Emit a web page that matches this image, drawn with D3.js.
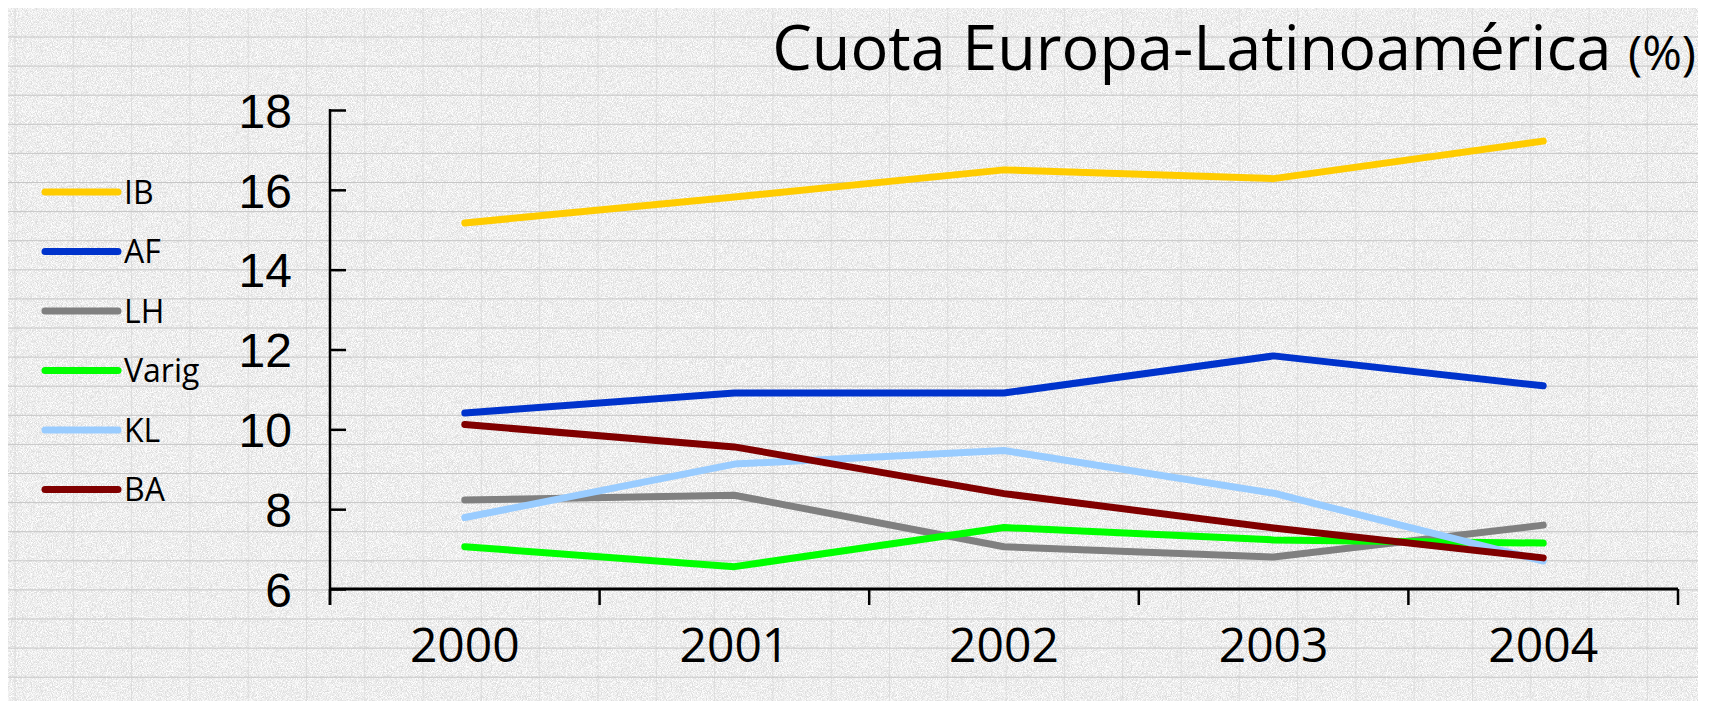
<!DOCTYPE html>
<html>
<head>
<meta charset="utf-8">
<script src="https://cdn.jsdelivr.net/npm/d3@7"></script>
<style>
  body { margin: 0; background: #fff; }
  svg { display: block; font-family: "Open Sans", "DejaVu Sans", sans-serif; }
</style>
</head>
<body>
<svg id="chart" width="1717" height="701"></svg>
<script>
// data
var years = ['2000', '2001', '2002', '2003', '2004'];
var seriesNames = ['IB', 'AF', 'LH', 'Varig', 'KL', 'BA'];
var ib    = [15.17, 15.82, 16.50, 16.28, 17.22];
var af    = [10.41, 10.91, 10.91, 11.84, 11.09];
var lh    = [8.23, 8.35, 7.06, 6.80, 7.60];
var varig = [7.06, 6.56, 7.54, 7.23, 7.15];
var kl    = [7.79, 9.13, 9.47, 8.40, 6.70];
var ba    = [10.12, 9.56, 8.39, 7.53, 6.78];
var yTicks = [6, 8, 10, 12, 14, 16, 18];

var colors = ['#ffcc00', '#0033cc', '#808080', '#00ff00', '#99ccff', '#800000'];
var allSeries = [ib, af, lh, varig, kl, ba];

var svg = d3.select('#chart');
var W = 1717, H = 701;

// ---- textured background ----
var defs = svg.append('defs');
var f = defs.append('filter').attr('id', 'grain')
	.attr('x', 0).attr('y', 0).attr('width', '100%').attr('height', '100%');
f.append('feTurbulence')
	.attr('type', 'fractalNoise')
	.attr('baseFrequency', 1.2)
	.attr('numOctaves', 1)
	.attr('seed', 3);
f.append('feColorMatrix')
	.attr('type', 'matrix')
	.attr('values', '0 0 0 0 1  0 0 0 0 1  0 0 0 0 1  2.8 0 0 0 -0.9');

var bg = svg.append('g');
bg.append('rect')
	.attr('x', 8).attr('y', 8)
	.attr('width', 1690).attr('height', H - 8)
	.attr('fill', '#dcdcdc');
bg.append('rect')
	.attr('x', 8).attr('y', 8)
	.attr('width', 1690).attr('height', H - 8)
	.attr('filter', 'url(#grain)');

bg.selectAll('line.v')
	.data(d3.range(15, 1698, 58.3))
	.enter().append('line')
		.attr('x1', d => d).attr('x2', d => d)
		.attr('y1', 8).attr('y2', H)
		.attr('stroke', '#d2d2d2')
		.attr('stroke-width', 1)
		.style('opacity', 0.6);

bg.selectAll('line.h')
	.data(d3.range(37, H, 29.1))
	.enter().append('line')
		.attr('x1', 8).attr('x2', 1698)
		.attr('y1', d => d).attr('y2', d => d)
		.attr('stroke', '#c6c6c6')
		.attr('stroke-width', 1);

// ---- scales ----
var x = d3.scaleBand().domain(years).range([330, 1678]);
var y = d3.scaleLinear().domain([6, 18]).range([589, 110]);

// ---- axes ----
var yAxis = svg.append('g')
	.attr('transform', 'translate(330,0)')
	.call(d3.axisLeft(y).tickValues(yTicks).tickSizeInner(-16).tickSizeOuter(0).tickPadding(38));
yAxis.select('.domain').remove();
yAxis.selectAll('line').attr('stroke', '#000').attr('stroke-width', 2.5);
yAxis.selectAll('text')
	.attr('fill', '#000')
	.style('font-size', '48px')
	.attr('dy', '0.36em');

svg.append('line')
	.attr('x1', 330).attr('x2', 330)
	.attr('y1', y(18) - 1).attr('y2', y(6) + 16)
	.attr('stroke', '#000').attr('stroke-width', 2.5);

svg.append('line')
	.attr('x1', x.range()[0]).attr('x2', x.range()[1])
	.attr('y1', y(6)).attr('y2', y(6))
	.attr('stroke', '#000').attr('stroke-width', 3);

var bounds = years.map(d => x(d)).concat([x.range()[1]]);
svg.selectAll('line.xt')
	.data(bounds)
	.enter().append('line')
		.attr('x1', d => d).attr('x2', d => d)
		.attr('y1', y(6)).attr('y2', y(6) + 16)
		.attr('stroke', '#000').attr('stroke-width', 2.5);

svg.selectAll('text.xl')
	.data(years)
	.enter().append('text')
		.attr('x', d => x(d) + x.bandwidth() / 2)
		.attr('y', 662)
		.attr('text-anchor', 'middle')
		.style('font-size', '48px')
		.attr('fill', '#000')
		.text(d => d);

// ---- lines ----
var line = d3.line()
	.x((d, i) => x(years[i]) + x.bandwidth() / 2)
	.y(d => y(d));

svg.append('g').selectAll('path')
	.data(allSeries)
	.enter().append('path')
		.attr('d', line)
		.attr('fill', 'none')
		.attr('stroke', (d, i) => colors[i])
		.attr('stroke-width', 7)
		.attr('stroke-linecap', 'round')
		.attr('stroke-linejoin', 'round');

// ---- legend ----
var legend = svg.append('g').selectAll('g')
	.data(seriesNames)
	.enter().append('g')
		.attr('transform', (d, i) => 'translate(0,' + (192 + i * 59.5) + ')');

legend.append('line')
	.attr('x1', 45).attr('x2', 118)
	.attr('y1', 0).attr('y2', 0)
	.attr('stroke', (d, i) => colors[i])
	.attr('stroke-width', 7)
	.attr('stroke-linecap', 'round');

legend.append('text')
	.attr('x', 124)
	.attr('y', 0)
	.attr('dy', '0.36em')
	.style('font-size', '32px')
	.attr('fill', '#000')
	.text(d => d);

// ---- title ----
var title = svg.append('text')
	.attr('x', 1696)
	.attr('y', 70)
	.attr('text-anchor', 'end')
	.attr('fill', '#000');
title.append('tspan').style('font-size', '63px').text('Cuota Europa-Latinoamérica ');
title.append('tspan').style('font-size', '48px').text('(%)');
</script>
</body>
</html>
